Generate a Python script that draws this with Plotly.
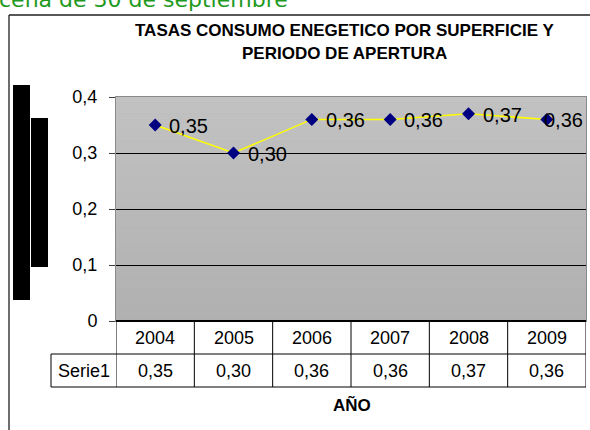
import plotly.graph_objects as go

# ---- data ----
years = ["2004", "2005", "2006", "2007", "2008", "2009"]
values = [0.35, 0.30, 0.36, 0.36, 0.37, 0.36]
series_name = "Serie1"
y_tickvals = [0, 0.1, 0.2, 0.3, 0.4]
y_ticktext = ["0", "0,1", "0,2", "0,3", "0,4"]
title_lines = ["TASAS CONSUMO ENEGETICO POR SUPERFICIE Y", "PERIODO DE APERTURA"]
x_title = "AÑO"
header_text = "cena de 30 de septiembre"

W, H = 590, 430


def px(x):
    return x / W


def py(y):
    return 1 - y / H


def fmt(v):
    return f"{v:.2f}".replace(".", ",")


PL, PR, PT, PB = 116, 586, 97, 321
ROW1, ROW2 = 354, 387
FONT = "Arial, Liberation Sans, sans-serif"

fig = go.Figure()
fig.add_trace(go.Scatter(
    x=years, y=values, mode="lines+markers",
    line=dict(color="#ffff00", width=1.5),
    marker=dict(symbol="diamond", size=10, color="#000080"),
    hoverinfo="skip", showlegend=False,
))

shapes = []
# gradient background of plot area
N = 40
c_top, c_bot = 194, 176
for k in range(N):
    c = round(c_top + (c_bot - c_top) * (k + 0.5) / N)
    shapes.append(dict(type="rect", xref="x domain", yref="y domain",
                       x0=0, x1=1, y0=1 - (k + 1) / N, y1=1 - k / N,
                       fillcolor=f"rgb({c},{c},{c})", line=dict(width=0),
                       layer="below"))

# outer frame
shapes.append(dict(type="line", xref="paper", yref="paper", x0=px(9), x1=px(W + 5),
                   y0=py(15), y1=py(15), line=dict(color="#202020", width=1.3)))
shapes.append(dict(type="line", xref="paper", yref="paper", x0=px(9), x1=px(9),
                   y0=py(15), y1=py(H + 5), line=dict(color="#202020", width=1.3)))
# black bars on left
shapes.append(dict(type="rect", xref="paper", yref="paper", x0=px(13), x1=px(30),
                   y0=py(300), y1=py(85), fillcolor="black", line=dict(width=0)))
shapes.append(dict(type="rect", xref="paper", yref="paper", x0=px(31), x1=px(48),
                   y0=py(267), y1=py(118), fillcolor="black", line=dict(width=0)))

# data table lines
tl = dict(color="black", width=1)
shapes.append(dict(type="line", xref="paper", yref="paper", x0=px(PL), x1=px(PR),
                   y0=py(PB), y1=py(PB), line=dict(color="black", width=2)))
for yy in (ROW1, ROW2):
    shapes.append(dict(type="line", xref="paper", yref="paper", x0=px(51), x1=px(PR),
                       y0=py(yy), y1=py(yy), line=tl))
shapes.append(dict(type="line", xref="paper", yref="paper", x0=px(51), x1=px(51),
                   y0=py(ROW1), y1=py(ROW2), line=tl))
for i in range(len(years) + 1):
    shapes.append(dict(type="line", xref="x", yref="paper", x0=i - 0.5, x1=i - 0.5,
                       y0=py(PB), y1=py(ROW2), line=tl))

annotations = []
# data labels
for i, v in enumerate(values):
    last = i == len(values) - 1
    annotations.append(dict(x=i, y=v, xref="x", yref="y", text=fmt(v),
                            showarrow=False, xanchor="left", yanchor="middle",
                            xshift=-5 if last else 12, yshift=-1,
                            font=dict(family=FONT, size=20, color="black")))
# table text
for i, (yr, v) in enumerate(zip(years, values)):
    annotations.append(dict(x=i, y=py((PB + ROW1) / 2), xref="x", yref="paper",
                            text=yr, showarrow=False, xanchor="center", yanchor="middle",
                            font=dict(family=FONT, size=18, color="black")))
    annotations.append(dict(x=i, y=py((ROW1 + ROW2) / 2), xref="x", yref="paper",
                            text=fmt(v), showarrow=False, xanchor="center", yanchor="middle",
                            font=dict(family=FONT, size=18, color="black")))
annotations.append(dict(x=px((51 + PL) / 2), y=py((ROW1 + ROW2) / 2), xref="paper",
                        yref="paper", text=series_name, showarrow=False,
                        xanchor="center", yanchor="middle",
                        font=dict(family=FONT, size=18, color="black")))
# titles
for j, (line, yy) in enumerate(zip(title_lines, (30, 54))):
    annotations.append(dict(x=px(344), y=py(yy), xref="paper", yref="paper",
                            text=line, showarrow=False, xanchor="center", yanchor="middle",
                            font=dict(family=FONT, size=17, color="black", weight="bold")))
annotations.append(dict(x=px(352), y=py(405), xref="paper", yref="paper",
                        text=x_title, showarrow=False, xanchor="center", yanchor="middle",
                        font=dict(family=FONT, size=17, color="black", weight="bold")))
# clipped green header text
annotations.append(dict(x=px(-3), y=py(14), xref="paper", yref="paper",
                        text=header_text, showarrow=False, xanchor="left", yanchor="bottom",
                        font=dict(family="DejaVu Sans", size=22, color="#1e9a1e")))

fig.update_layout(
    width=W, height=H,
    margin=dict(l=0, r=0, t=0, b=0, autoexpand=False),
    paper_bgcolor="white",
    plot_bgcolor="#b8b8b8",
    shapes=shapes,
    annotations=annotations,
    xaxis=dict(type="category", domain=[px(PL), px(PR)], range=[-0.5, len(years) - 0.5],
               showticklabels=False, showgrid=False, zeroline=False, ticks="",
               automargin=False,
               showline=True, mirror=True, linecolor="#8a8a8a", linewidth=1),
    yaxis=dict(domain=[py(PB), py(PT)], range=[0, 0.4],
               tickvals=y_tickvals, ticktext=y_ticktext,
               ticks="outside", ticklen=6, tickcolor="#404040",
               showgrid=True, gridcolor="black", gridwidth=1, zeroline=False,
               showline=True, mirror=True, linecolor="#8a8a8a", linewidth=1,
               ticklabelstandoff=8, automargin=False,
               tickfont=dict(family=FONT, size=18, color="black")),
)

fig.write_html(
    "out.html",
    config={"displayModeBar": False},
    post_script="document.body.style.margin='0';document.body.style.overflow='hidden';",
)
